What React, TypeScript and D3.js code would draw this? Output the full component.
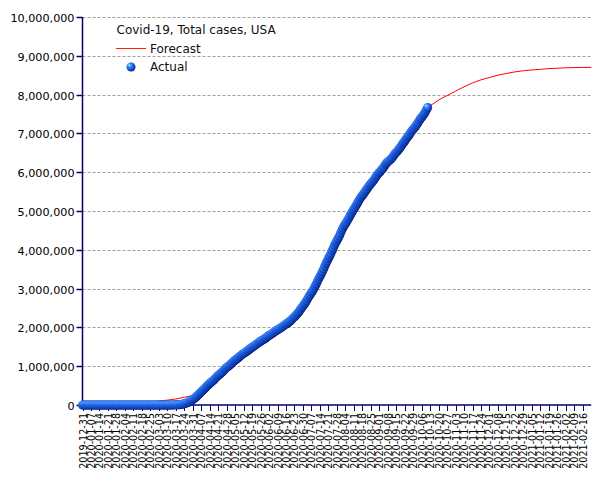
import React from "react";
import * as d3 from "d3";

// ---------- DATA ----------
const chartTitle = "Covid-19, Total cases, USA";
const legendForecast = "Forecast";
const legendActual = "Actual";

// Actual total cases (thousands), one value per day starting at actualStart
const actualStart = "2019-12-31";
const actualValues: number[] = [
  // 2019-12-31 .. 2020-03-02
  0, 0, 0, 0, 0, 0, 0, 0, 0, 0, 0, 0, 0, 0, 0, 0, 0, 0, 0, 0, 0, 0, 0, 0, 0, 0, 0, 0, 0, 0, 0, 0,
  0, 0, 0, 0, 0, 0, 0, 0, 0, 0, 0, 0, 0, 0, 0, 0, 0, 0, 0, 0, 0, 0, 0, 0, 0, 0, 0, 0, 0, 0, 0,
  // 2020-03-03 .. 2020-04-02
  0.07, 0.1, 0.12, 0.16, 0.22, 0.32, 0.42, 0.54, 0.7, 0.96, 1.3, 1.7, 2.2, 2.7, 3.5, 4.6, 6.4, 7.8,
  13.7, 19.1, 25.5, 33.3, 43.8, 53.7, 65.8, 83.8, 101.7, 121.5, 140.9, 161.8, 188.2,
  // 2020-04-03 .. 2020-05-02
  213.4, 243.6, 275.4, 308.7, 337.1, 366.7, 396.2, 429.1, 461.4, 496.5, 526.4, 555.3, 580.6, 607.7, 636.4,
  667.8, 699.7, 732.2, 759.1, 784.3, 811.9, 840.4, 869.2, 905.4, 938.2, 965.8, 988.5, 1012.6, 1039.9, 1069.4,
  // 2020-05-03 .. 2020-06-02
  1103.5, 1133.1, 1158.0, 1180.4, 1204.4, 1229.3, 1257.0, 1283.9, 1309.5, 1329.3, 1347.9, 1369.4, 1390.4,
  1417.8, 1442.8, 1467.8, 1486.8, 1508.3, 1528.6, 1551.9, 1577.1, 1600.9, 1622.6, 1643.2, 1662.3, 1681.2,
  1699.9, 1721.8, 1747.1, 1770.2, 1790.2,
  // 2020-06-03 .. 2020-07-02
  1811.3, 1831.8, 1851.5, 1872.7, 1897.4, 1920.1, 1938.8, 1956.4, 1973.8, 1994.3, 2016.0, 2041.0, 2066.0,
  2085.8, 2104.3, 2127.7, 2152.3, 2179.2, 2212.0, 2244.0, 2271.0, 2303.5, 2339.4, 2377.6, 2416.6, 2462.9,
  2507.5, 2549.0, 2590.6, 2636.5,
  // 2020-07-03 .. 2020-08-02
  2687.6, 2742.0, 2799.2, 2844.6, 2894.8, 2938.9, 2999.0, 3061.2, 3120.0, 3189.5, 3250.2, 3310.0, 3370.7,
  3433.9, 3500.3, 3576.2, 3648.2, 3711.4, 3774.5, 3834.0, 3898.6, 3970.9, 4040.0, 4112.5, 4178.0, 4233.9,
  4290.3, 4351.9, 4426.0, 4495.0, 4562.0,
  // 2020-08-03 .. 2020-09-02
  4620.4, 4667.9, 4713.5, 4771.1, 4823.9, 4883.6, 4942.0, 4998.0, 5044.9, 5094.4, 5149.7, 5205.4, 5257.0,
  5313.1, 5361.2, 5403.2, 5438.3, 5482.4, 5529.8, 5574.0, 5622.3, 5666.0, 5701.6, 5739.5, 5777.7, 5821.6,
  5867.8, 5914.8, 5958.4, 5993.6, 6025.5,
  // 2020-09-03 .. 2020-10-02
  6066.4, 6096.2, 6141.3, 6195.9, 6237.6, 6268.4, 6292.8, 6316.6, 6351.3, 6387.4, 6435.0, 6475.7, 6510.6,
  6544.9, 6584.4, 6624.6, 6669.2, 6717.2, 6759.9, 6797.5, 6849.6, 6889.6, 6928.7, 6973.1, 7028.1, 7073.0,
  7108.4, 7143.2, 7183.8, 7228.5,
  // 2020-10-03 .. 2020-10-11
  7274.7, 7328.1, 7378.8, 7413.0, 7457.4, 7500.6, 7551.8, 7608.2, 7666.7,
];

// Forecast (thousands)
const forecastDates = [
  "2020-03-03", "2020-03-10", "2020-03-17", "2020-03-24", "2020-03-31", "2020-04-07", "2020-04-14",
  "2020-04-21", "2020-04-28", "2020-05-05", "2020-05-12", "2020-05-19", "2020-05-26", "2020-06-02",
  "2020-06-09", "2020-06-16", "2020-06-23", "2020-06-30", "2020-07-07", "2020-07-14", "2020-07-21",
  "2020-07-28", "2020-08-04", "2020-08-11", "2020-08-18", "2020-08-25", "2020-09-01", "2020-09-08",
  "2020-09-15", "2020-09-22", "2020-09-29", "2020-10-06", "2020-10-11", "2020-10-13", "2020-10-20",
  "2020-10-27", "2020-11-03", "2020-11-10", "2020-11-17", "2020-11-24", "2020-12-01", "2020-12-08",
  "2020-12-15", "2020-12-22", "2020-12-29", "2021-01-05", "2021-01-12", "2021-01-19", "2021-01-26",
  "2021-02-02", "2021-02-09", "2021-02-16", "2021-02-23",
];
const forecastValues = [
  105, 125, 155, 200, 250, 360, 580,
  785, 990, 1180, 1350, 1510, 1665, 1810,
  1960, 2110, 2300, 2580, 2930, 3350, 3810,
  4260, 4690, 5070, 5420, 5720, 6010, 6280,
  6560, 6820, 7120, 7430, 7670, 7710, 7860,
  7975, 8090, 8200, 8300, 8380, 8440, 8500,
  8545, 8585, 8615, 8635, 8650, 8670, 8680,
  8690, 8697, 8700, 8702,
];

const xDomainStart = "2019-12-31";
const xDomainEnd = "2021-02-23";
const xTickFirst = "2019-12-31";
const xTickCount = 60; // weekly
const yMax = 10000000;
const yTickStep = 1000000;

// ---------- LAYOUT ----------
const W = 605;
const H = 480;
const left = 82.5;
const right = 591.2;
const top = 17;
const bottom = 405;
const axisColor = "#000066";
const font = "DejaVu Sans, Verdana, sans-serif";

export default function App() {
  const parse = d3.utcParse("%Y-%m-%d");
  const x = d3
    .scaleUtc()
    .domain([parse(xDomainStart)!, parse(xDomainEnd)!])
    .range([left, right]);
  const y = d3.scaleLinear().domain([0, yMax]).range([bottom, top]);

  const start = parse(actualStart)!;
  const actual = actualValues.map((v, i) => ({ d: d3.utcDay.offset(start, i), v: v * 1000 }));
  const forecast = forecastDates.map((s, i) => ({ d: parse(s)!, v: forecastValues[i] * 1000 }));

  const line = d3
    .line<{ d: Date; v: number }>()
    .x((p) => x(p.d))
    .y((p) => y(p.v))
    .curve(d3.curveMonotoneX);

  const yTicks = d3.range(0, yMax + 1, yTickStep);
  const fmtY = d3.format(",");
  const tickStart = parse(xTickFirst)!;
  const xTicks = d3.range(0, xTickCount).map((i) => d3.utcDay.offset(tickStart, i * 7));
  const fmtX = d3.utcFormat("%Y-%m-%d");

  return (
    <svg
      width={W}
      height={H}
      style={{ position: "absolute", left: 0, top: 0, display: "block", background: "#fff" }}
      fontFamily={font}
    >
      <defs>
        <radialGradient id="ball" cx="0.42" cy="0.42" r="0.62" fx="0.3" fy="0.26">
          <stop offset="0" stopColor="#d4ecff" />
          <stop offset="0.22" stopColor="#5aa0ff" />
          <stop offset="0.55" stopColor="#1f63e8" />
          <stop offset="0.85" stopColor="#0d3cb0" />
          <stop offset="1" stopColor="#031660" />
        </radialGradient>
      </defs>

      {/* grid */}
      {yTicks.slice(1).map((t) => (
        <line
          key={"g" + t}
          x1={left}
          x2={right}
          y1={Math.round(y(t)) + 0.5}
          y2={Math.round(y(t)) + 0.5}
          stroke="#a0a0a0"
          strokeDasharray="3,2"
          strokeWidth={1}
        />
      ))}

      {/* y axis */}
      <line x1={left} x2={left} y1={top} y2={bottom} stroke={axisColor} strokeWidth={1.5} />
      {yTicks.map((t) => (
        <g key={"y" + t} transform={`translate(0,${Math.round(y(t)) + 0.5})`}>
          <line x1={left - 6} x2={left} stroke={axisColor} strokeWidth={1.5} />
          <text x={left - 8} dy="0.36em" textAnchor="end" fontSize={11.2} fill="#000">
            {fmtY(t)}
          </text>
        </g>
      ))}

      {/* x axis */}
      <line x1={left} x2={right} y1={bottom} y2={bottom} stroke={axisColor} strokeWidth={1.5} />
      {xTicks.map((t, i) => (
        <g key={"x" + i} transform={`translate(${Math.round(x(t)) + 0.5},${bottom})`}>
          <line y1={0} y2={6} stroke={axisColor} strokeWidth={1} />
          <text
            transform="rotate(-90)"
            x={-8}
            dy="0.33em"
            textAnchor="end"
            fontSize={9.6}
            fill="#000"
          >
            {fmtX(t)}
          </text>
        </g>
      ))}

      {/* forecast */}
      <path d={line(forecast) || ""} fill="none" stroke="#ff0000" strokeWidth={1} />

      {/* actual */}
      {actual.map((p, i) => (
        <circle key={"a" + i} cx={x(p.d)} cy={y(p.v)} r={4.5} fill="url(#ball)" />
      ))}

      {/* legend */}
      <text x={116.5} y={33.5} fontSize={12} fill="#111">
        {chartTitle}
      </text>
      <line x1={116} x2={146} y1={48.5} y2={48.5} stroke="#ff2000" strokeWidth={1} />
      <text x={150} y={52.5} fontSize={12} fill="#111">
        {legendForecast}
      </text>
      <circle cx={131} cy={67} r={4.5} fill="url(#ball)" />
      <text x={150} y={71} fontSize={12} fill="#111">
        {legendActual}
      </text>
    </svg>
  );
}
